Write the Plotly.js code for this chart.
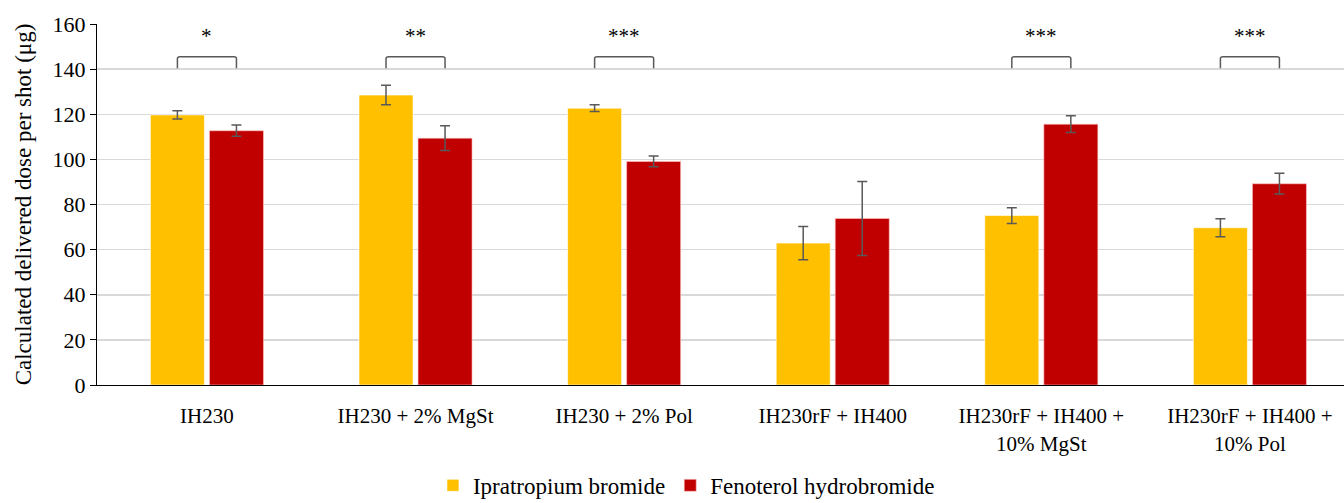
<!DOCTYPE html>
<html><head><meta charset="utf-8">
<script src="https://cdn.plot.ly/plotly-3.0.1.min.js"></script>
<style>html,body{margin:0;padding:0;background:#fff;overflow:hidden}#chart{width:1344px;height:503px}</style>
</head><body><div id="chart"></div>
<script>
var categories = ['IH230', 'IH230 + 2% MgSt', 'IH230 + 2% Pol', 'IH230rF + IH400', 'IH230rF + IH400 +<br>10% MgSt', 'IH230rF + IH400 +<br>10% Pol'];
var ipratropium = [119.7, 128.5, 122.7, 62.9, 75.1, 69.7];
var ipratropiumErr = [1.8, 4.3, 1.5, 7.4, 3.5, 4.0];
var fenoterol = [112.7, 109.4, 99.1, 73.8, 115.6, 89.2];
var fenoterolErr = [2.5, 5.5, 2.4, 16.4, 3.7, 4.6];
var significance = ['*', '**', '***', '', '***', '***'];
var bracketLow = 140.4, bracketHigh = 145.5, starLevel = 154.5;

var FONT = '"Liberation Serif", "Times New Roman", serif';
var bargap = 0.434;
var off = (1 - bargap) / 4;

var errStyle = {type: 'data', visible: true, color: '#595959', thickness: 1.5, width: 5};
var traces = [
  {type: 'bar', name: 'Ipratropium bromide', x: categories, y: ipratropium,
   marker: {color: '#FFC000', line: {color: 'rgba(255,255,255,0.6)', width: 1}},
   error_y: Object.assign({array: ipratropiumErr}, errStyle)},
  {type: 'bar', name: 'Fenoterol hydrobromide', x: categories, y: fenoterol,
   marker: {color: '#C00000', line: {color: 'rgba(255,200,200,0.6)', width: 1}},
   error_y: Object.assign({array: fenoterolErr}, errStyle)}
];

var shapes = [], annotations = [];
significance.forEach(function (s, i) {
  if (!s) return;
  var x1 = i - off, x2 = i + off, r = 0.012;
  shapes.push({type: 'path', xref: 'x', yref: 'y',
    path: 'M ' + x1 + ',' + bracketLow + ' L ' + x1 + ',' + (bracketHigh - 0.8) +
          ' Q ' + x1 + ',' + bracketHigh + ' ' + (x1 + r) + ',' + bracketHigh +
          ' L ' + (x2 - r) + ',' + bracketHigh +
          ' Q ' + x2 + ',' + bracketHigh + ' ' + x2 + ',' + (bracketHigh - 0.8) +
          ' L ' + x2 + ',' + bracketLow,
    line: {color: '#595959', width: 1.5}});
  annotations.push({xref: 'x', yref: 'y', x: i, y: starLevel, text: s, showarrow: false,
    font: {family: FONT, size: 21, color: '#000'}});
});

var layout = {
  width: 1344, height: 503,
  margin: {l: 97, r: 0, t: 24, b: 118, autoexpand: false},
  paper_bgcolor: '#fff', plot_bgcolor: '#fff',
  barmode: 'group', bargap: bargap, bargroupgap: 0.085,
  font: {family: FONT, size: 21, color: '#000'},
  showlegend: true,
  legend: {orientation: 'h', x: 0.4727, xanchor: 'center', y: -0.278, yanchor: 'middle',
    font: {family: FONT, size: 23, color: '#000'}, traceorder: 'normal'},
  xaxis: {type: 'category', range: [-0.527, 5.451], showgrid: false, automargin: false,
    showline: true, linecolor: '#000', linewidth: 1.2, ticks: '',
    tickfont: {family: FONT, size: 21}, ticklabelstandoff: 12},
  yaxis: {range: [0, 160], dtick: 20, showgrid: true, gridcolor: '#d9d9d9', gridwidth: 1.5, automargin: false,
    showline: true, linecolor: '#000', linewidth: 1.2, ticks: 'outside', ticklen: 6, tickcolor: '#000',
    tickfont: {family: FONT, size: 22}, zeroline: false,
    title: {text: 'Calculated delivered dose per shot (μg)', font: {family: FONT, size: 23}, standoff: 14}},
  shapes: shapes, annotations: annotations
};
Plotly.newPlot('chart', traces, layout, {displayModeBar: false, staticPlot: true});
</script></body></html>
